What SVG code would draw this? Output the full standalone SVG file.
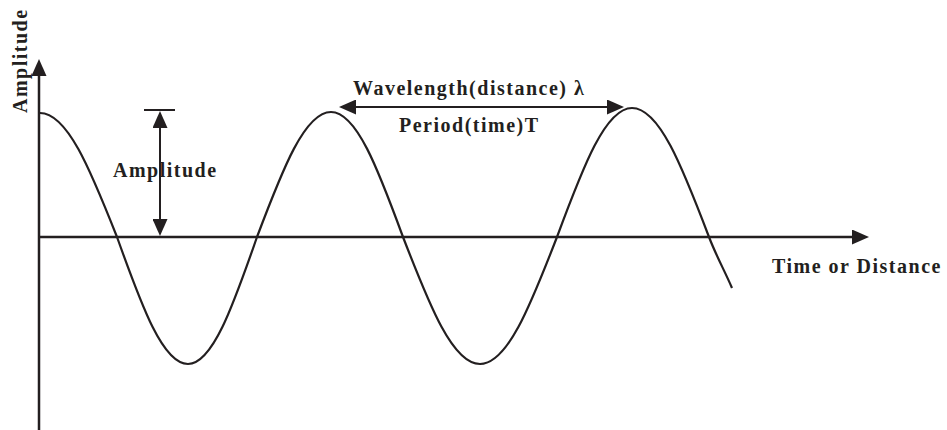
<svg xmlns="http://www.w3.org/2000/svg" width="947" height="430" viewBox="0 0 947 430">
<style>
.t{font-family:"Liberation Serif","Times New Roman",serif;font-weight:bold;font-size:20px;letter-spacing:1.5px;fill:#231f20}
.ax{stroke:#231f20;stroke-width:2.5;fill:none}
.ar{stroke:#231f20;stroke-width:2;fill:none}
.wave{stroke:#231f20;stroke-width:2.2;fill:none}
</style>
<defs>
<marker id="ah" viewBox="0 0 17 15" markerWidth="17" markerHeight="15" refX="9" refY="7.5" orient="auto-start-reverse" markerUnits="userSpaceOnUse">
<path d="M0,0 L17,7.5 L0,15 z" fill="#231f20"/>
</marker>
</defs>
<rect width="947" height="430" fill="#ffffff"/>
<g id="wave">
<path class="wave" d="M40,113 C67.1,113 89.9,168.5 117,237 C142,307.1 163,364 188,364 C212.3,364 232.7,307.1 257,237 C283,168 305,112 331,112 C356.3,112 377.7,168 403,237 C430.1,307.1 452.9,364 480,364 C507.1,364 529.9,307.1 557,237 C583.4,165.8 605.6,108 632,108 C659.1,108 681.9,165.8 709,237 C716.7,257 724.3,270 732,288"/>
</g>
<g id="connectors">
<line id="y-axis" class="ax" x1="39" y1="430" x2="39" y2="67" marker-end="url(#ah)"/>
<line id="x-axis" class="ax" x1="39" y1="237" x2="861" y2="237" marker-end="url(#ah)"/>
<line id="amp-bar" class="ar" x1="144" y1="110" x2="175" y2="110"/>
<line id="amp-arrow" class="ar" x1="160" y1="119" x2="160" y2="228" marker-start="url(#ah)" marker-end="url(#ah)"/>
<line id="wl-arrow" class="ar" x1="347" y1="107" x2="616" y2="107" marker-start="url(#ah)" marker-end="url(#ah)"/>
</g>
<g id="label-y"><text class="t" transform="translate(27,113) rotate(-90)">Amplitude</text></g>
<g id="label-amp"><text class="t" x="113" y="177">Amplitude</text></g>
<g id="label-wl"><text class="t" x="353" y="95">Wavelength(distance) λ</text></g>
<g id="label-period"><text class="t" x="399" y="132">Period(time)T</text></g>
<g id="label-x"><text class="t" x="772" y="273">Time or Distance</text></g>
</svg>
